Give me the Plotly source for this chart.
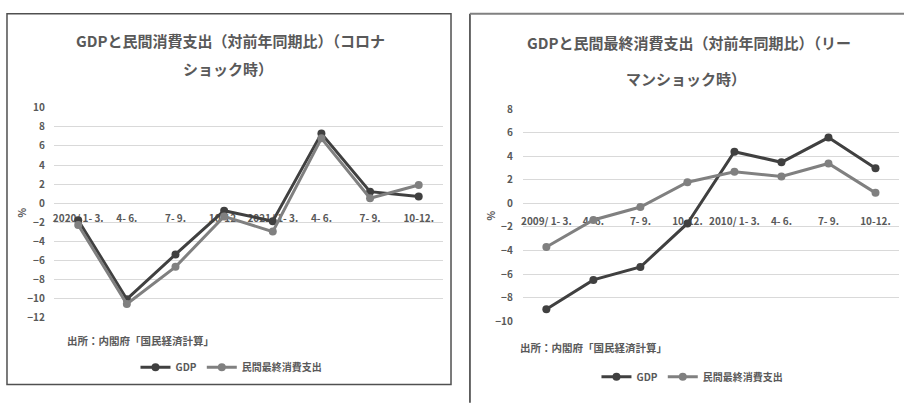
import plotly.graph_objects as go

W, H = 904, 403

# ---- data ----
quarters_covid = ["2020/ 1- 3.", "4- 6.", "7- 9.", "10-12.", "2021/ 1- 3.", "4- 6.", "7- 9.", "10-12."]
gdp_covid = [-1.8, -10.1, -5.4, -0.8, -1.9, 7.3, 1.2, 0.7]
cons_covid = [-2.3, -10.6, -6.7, -1.4, -3.0, 6.8, 0.5, 1.9]

quarters_lehman = ["2009/ 1- 3.", "4- 6.", "7- 9.", "10-12.", "2010/ 1- 3.", "4- 6.", "7- 9.", "10-12."]
gdp_lehman = [-9.0, -6.5, -5.4, -1.7, 4.4, 3.5, 5.6, 3.0]
cons_lehman = [-3.7, -1.4, -0.3, 1.8, 2.7, 2.3, 3.4, 0.9]

yticks_covid = list(range(-12, 11, 2))
yticks_lehman = list(range(-10, 9, 2))

series_names = ["GDP", "民間最終消費支出"]
title_covid = ["GDPと民間消費支出（対前年同期比）（コロナ", "ショック時）"]
title_lehman = ["GDPと民間最終消費支出（対前年同期比）（リー", "マンショック時）"]
source_text = "出所：内閣府「国民経済計算」"

# ---- styles ----
FONT = "Noto Sans CJK JP"
TXT = "#595959"
C_GDP = "#404040"
C_CONS = "#808080"
GRID = "#d9d9d9"


def px(x):
    return x / W


def py(y):
    return 1 - y / H


fig = go.Figure()

idx_c = list(range(len(quarters_covid)))
idx_l = list(range(len(quarters_lehman)))

fig.add_trace(go.Scatter(x=idx_c, y=gdp_covid, name=series_names[0], mode="lines+markers",
                         line=dict(color=C_GDP, width=3), marker=dict(size=8, color=C_GDP),
                         xaxis="x", yaxis="y", legend="legend"))
fig.add_trace(go.Scatter(x=idx_c, y=cons_covid, name=series_names[1], mode="lines+markers",
                         line=dict(color=C_CONS, width=3), marker=dict(size=8, color=C_CONS),
                         xaxis="x", yaxis="y", legend="legend"))
fig.add_trace(go.Scatter(x=idx_l, y=gdp_lehman, name=series_names[0], mode="lines+markers",
                         line=dict(color=C_GDP, width=3), marker=dict(size=8, color=C_GDP),
                         xaxis="x2", yaxis="y2", legend="legend2"))
fig.add_trace(go.Scatter(x=idx_l, y=cons_lehman, name=series_names[1], mode="lines+markers",
                         line=dict(color=C_CONS, width=3), marker=dict(size=8, color=C_CONS),
                         xaxis="x2", yaxis="y2", legend="legend2"))

# plot areas (pixel coords)
L_x0, L_x1, L_ytop, L_ybot = 52, 442, 103, 321
R_x0, R_x1, R_ytop, R_ybot = 522, 899, 104.5, 325
L_rng = [-12, 10]
R_rng = [-10, 8]


def zero_pos(ytop, ybot, rng):
    frac = (0 - rng[0]) / (rng[1] - rng[0])
    return py(ybot) + frac * (py(ytop) - py(ybot))


tickfont = dict(family=FONT, size=10, color=TXT, weight="bold")

fig.update_layout(
    width=W, height=H, margin=dict(l=0, r=0, t=0, b=0),
    paper_bgcolor="white", plot_bgcolor="white",
    font=dict(family=FONT, color=TXT),
    xaxis=dict(domain=[px(L_x0), px(L_x1)], range=[-0.5, 7.5], anchor="free",
               position=zero_pos(L_ytop, L_ybot, L_rng), tickmode="array",
               tickvals=idx_c, ticktext=quarters_covid, showgrid=False, zeroline=False,
               showline=False, ticks="", tickfont=tickfont, layer="below traces",
               ticklabelstandoff=8),
    yaxis=dict(domain=[py(L_ybot), py(L_ytop)], range=L_rng, anchor="x", tickmode="array",
               tickvals=yticks_covid, showgrid=True, gridcolor=GRID, gridwidth=1,
               zeroline=False, showline=False, ticks="", tickfont=tickfont,
               ticklabelstandoff=8),
    xaxis2=dict(domain=[px(R_x0), px(R_x1)], range=[-0.5, 7.5], anchor="free",
                position=zero_pos(R_ytop, R_ybot, R_rng), tickmode="array",
                tickvals=idx_l, ticktext=quarters_lehman, showgrid=False, zeroline=False,
                showline=False, ticks="", tickfont=tickfont, layer="below traces",
                ticklabelstandoff=11),
    yaxis2=dict(domain=[py(R_ybot), py(R_ytop)], range=R_rng, anchor="x2", tickmode="array",
                tickvals=yticks_lehman, showgrid=True, gridcolor=GRID, gridwidth=1,
                zeroline=False, showline=False, ticks="", tickfont=tickfont,
                ticklabelstandoff=9),
    legend=dict(orientation="h", x=px(230), y=py(373), xanchor="center", yanchor="middle",
                font=dict(family=FONT, size=10, color=TXT, weight="bold"), bgcolor="rgba(0,0,0,0)",
                itemwidth=30, tracegroupgap=0),
    legend2=dict(orientation="h", x=px(692), y=py(383), xanchor="center", yanchor="middle",
                 font=dict(family=FONT, size=10, color=TXT, weight="bold"), bgcolor="rgba(0,0,0,0)",
                 itemwidth=30, tracegroupgap=0),
    showlegend=True,
)

# panel borders
fig.add_shape(type="rect", xref="paper", yref="paper", x0=px(5), x1=px(450), y0=py(391), y1=py(5),
              line=dict(color="#505050", width=1.5), layer="below")
fig.add_shape(type="line", xref="paper", yref="paper", x0=px(469), x1=px(469), y0=py(410), y1=py(5),
              line=dict(color="#000000", width=1.2))
fig.add_shape(type="line", xref="paper", yref="paper", x0=px(469), x1=px(910), y0=py(5), y1=py(5),
              line=dict(color="#808080", width=2))

ann = []
tfont = dict(family=FONT, size=15, color=TXT)
ann.append(dict(text="<b>%s</b>" % title_covid[0], x=px(229), y=py(33), font=tfont))
ann.append(dict(text="<b>%s</b>" % title_covid[1], x=px(226), y=py(62), font=tfont))
ann.append(dict(text="<b>%s</b>" % title_lehman[0], x=px(689), y=py(35), font=tfont))
ann.append(dict(text="<b>%s</b>" % title_lehman[1], x=px(686), y=py(72), font=tfont))
sfont = dict(family=FONT, size=10.5, color=TXT)
ann.append(dict(text="<b>%s</b>" % source_text, x=px(63), y=py(345), xanchor="left", font=sfont))
ann.append(dict(text="<b>%s</b>" % source_text, x=px(517), y=py(352), xanchor="left", font=sfont))
pfont = dict(family=FONT, size=10, color=TXT)
ann.append(dict(text="<b>%</b>", x=px(20), y=py(212), textangle=-90, font=pfont))
ann.append(dict(text="<b>%</b>", x=px(490), y=py(215), textangle=-90, font=pfont))
for a in ann:
    a.setdefault("xanchor", "center")
    a["yanchor"] = "middle"
    a["xref"] = "paper"
    a["yref"] = "paper"
    a["showarrow"] = False
    fig.add_annotation(**a)

css_fix = (
    "var h=document.documentElement,b=document.body;"
    "h.style.margin='0';h.style.padding='0';h.style.overflow='hidden';"
    "b.style.margin='0';b.style.padding='0';b.style.overflow='hidden';"
)

fig.write_html("out.html", config={"displayModeBar": False}, post_script=css_fix)
